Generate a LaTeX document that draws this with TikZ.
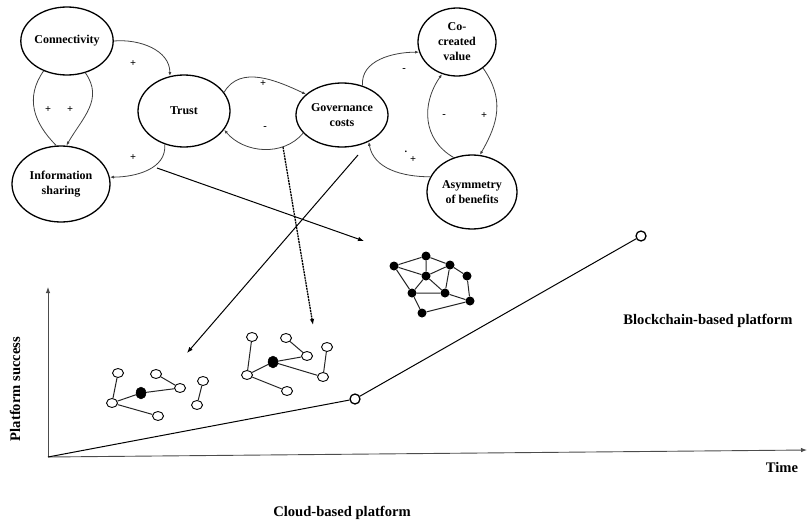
\documentclass[tikz,border=0pt]{standalone}
\usepackage{fontspec}
\setmainfont{Liberation Serif}
\usetikzlibrary{shapes.geometric,arrows.meta}
\begin{document}
\begin{tikzpicture}[x=1pt,y=1pt,
  concept/.style={ellipse,draw,line width=1.3pt,inner sep=0pt,align=center,
    font=\bfseries\fontsize{12}{15}\selectfont},
  link/.style={draw=black!75,line width=0.8pt},
  tip/.style={-{Latex[length=4pt,width=3pt]}},
  bigtip/.style={-{Latex[length=6pt,width=4.5pt]}},
  sign/.style={font=\bfseries\fontsize{10.5}{11}\selectfont,inner sep=0pt},
  label/.style={font=\bfseries\fontsize{14.6}{16}\selectfont,inner sep=0pt},
  onode/.style={ellipse,draw,fill=white,line width=0.9pt,minimum width=11pt,minimum height=9pt,inner sep=0pt},
  bnode/.style={ellipse,draw,fill=black,minimum width=10pt,minimum height=12pt,inner sep=0pt},
  chain/.style={circle,fill=black,minimum size=9pt,inner sep=0pt},
  edge/.style={line width=1pt,draw=black!85},
  pt/.style={circle,draw,fill=white,line width=1.3pt,minimum size=10pt,inner sep=0pt}
]
\useasboundingbox (0,0) rectangle (808,-522);

% concept ellipses
\node[concept,minimum width=92pt,minimum height=68pt] (conn) at (67,-41) {Connectivity};
\node[concept,minimum width=92pt,minimum height=72pt] (trust) at (184,-111) {Trust};
\node[concept,minimum width=98pt,minimum height=76pt] (info) at (61,-184) {Information\\sharing};
\node[concept,minimum width=92pt,minimum height=64pt] (gov) at (342,-115) {Governance\\costs};
\node[concept,minimum width=78pt,minimum height=68pt] (cocr) at (457,-42) {Co-\\created\\value};
\node[concept,minimum width=90pt,minimum height=74pt] (asym) at (472,-192) {Asymmetry\\of benefits};

% loops
\draw[link,tip] (conn.east) to[out=5,in=90] (trust.112);
\draw[link] (conn.232) to[out=235,in=135,looseness=1.1] (info.97);
\draw[link,tip] (conn.300) to[out=305,in=60,looseness=1.1] (info.82);
\draw[link,tip] (trust.240) to[out=275,in=0] (info.8);
\draw[link,tip] (trust.25) to[out=60,in=155] (gov.150);
\draw[link,tip] (gov.205) to[out=230,in=310] (trust.335);
\draw[link,tip] (gov.55) to[out=95,in=180] (cocr.195);
\draw[link,tip] (asym.118) to[out=150,in=235,looseness=1.1] (cocr.245);
\draw[link,tip] (cocr.315) to[out=305,in=60,looseness=1.1] (asym.78);
\draw[link,tip] (asym.160) to[out=180,in=280] (gov.315);

% signs
\node[sign] (s01) at (133,-64) {+};
\node[sign] (s02) at (48,-110) {+};
\node[sign] (s03) at (70,-110) {+};
\node[sign] (s04) at (133,-158) {+};
\node[sign] (s05) at (263,-84) {+};
\node[sign] (s06) at (265,-128) {-};
\node[sign] (s07) at (404,-70) {-};
\node[sign] (s08) at (444,-116) {-};
\node[sign] (s09) at (484,-116) {+};
\node[sign] (s10) at (406,-152) {.};
\node[sign] (s11) at (413,-160) {+};

% long arrows
\coordinate (s1) at (157,-168); \coordinate (e1) at (364,-241);
\coordinate (s2) at (358,-155); \coordinate (e2) at (187,-353);
\coordinate (s3) at (283,-147); \coordinate (e3) at (313,-325);
\draw[line width=1pt,bigtip] (s1) -- (e1);
\draw[line width=1pt,bigtip] (s2) -- (e2);
\draw[line width=1.3pt,dash pattern=on 2pt off 0.8pt,bigtip] (s3) -- (e3);

% axes
\coordinate (O) at (48,-457);
\coordinate (ytop) at (48,-287);
\coordinate (xend) at (807,-450);
\draw[line width=0.9pt,draw=black!70,bigtip] (O) -- (ytop);
\draw[line width=0.9pt,draw=black!70,bigtip] (O) -- (xend);

% growth line
\node[pt] (p1) at (355,-399) {};
\node[pt] (p2) at (641,-236) {};
\draw[line width=1pt] (O) -- (p1) -- (p2);

% cloud network 1
\node[onode] (a) at (118,-373) {};
\node[onode] (b) at (112,-403) {};
\node[bnode] (c) at (141,-393) {};
\node[onode] (d) at (156,-374) {};
\node[onode] (e) at (180,-388) {};
\node[onode] (f) at (158,-416) {};
\node[onode] (g) at (203,-381) {};
\node[onode] (h) at (197,-405) {};
\draw[edge] (a) -- (b) (b) -- (c) (c) -- (e) (d) -- (e) (b) -- (f) (g) -- (h);

% cloud network 2
\node[onode] (i) at (252,-337) {};
\node[onode] (j) at (247,-375) {};
\node[bnode] (k) at (273,-362) {};
\node[onode] (l) at (286,-338) {};
\node[onode] (m) at (307,-356) {};
\node[onode] (n) at (327,-347) {};
\node[onode] (o) at (323,-377) {};
\node[onode] (q) at (287,-391) {};
\draw[edge] (i) -- (j) (j) -- (k) (k) -- (m) (l) -- (m) (k) -- (o) (o) -- (n) (j) -- (q);

% blockchain network
\node[chain] (A) at (394,-266) {};
\node[chain] (B) at (426,-256) {};
\node[chain] (C) at (450,-265) {};
\node[chain] (D) at (426,-276) {};
\node[chain] (E) at (467,-276) {};
\node[chain] (F) at (412,-293) {};
\node[chain] (G) at (445,-293) {};
\node[chain] (H) at (470,-301) {};
\node[chain] (I) at (422,-313) {};
\draw[edge] (A) -- (B) (B) -- (C) (B) -- (D) (A) -- (D) (A) -- (F) (C) -- (D)
  (C) -- (G) (C) -- (E) (E) -- (H) (D) -- (F) (D) -- (G) (F) -- (G) (G) -- (H)
  (F) -- (I) (I) -- (H);

% labels
\node[label] (bc) at (708,-321) {Blockchain-based platform};
\node[label] (time) at (782,-467) {Time};
\node[label] (cloud) at (342,-513) {Cloud-based platform};
\node[label,rotate=90] (ps) at (15,-389) {Platform success};
\end{tikzpicture}
\end{document}
